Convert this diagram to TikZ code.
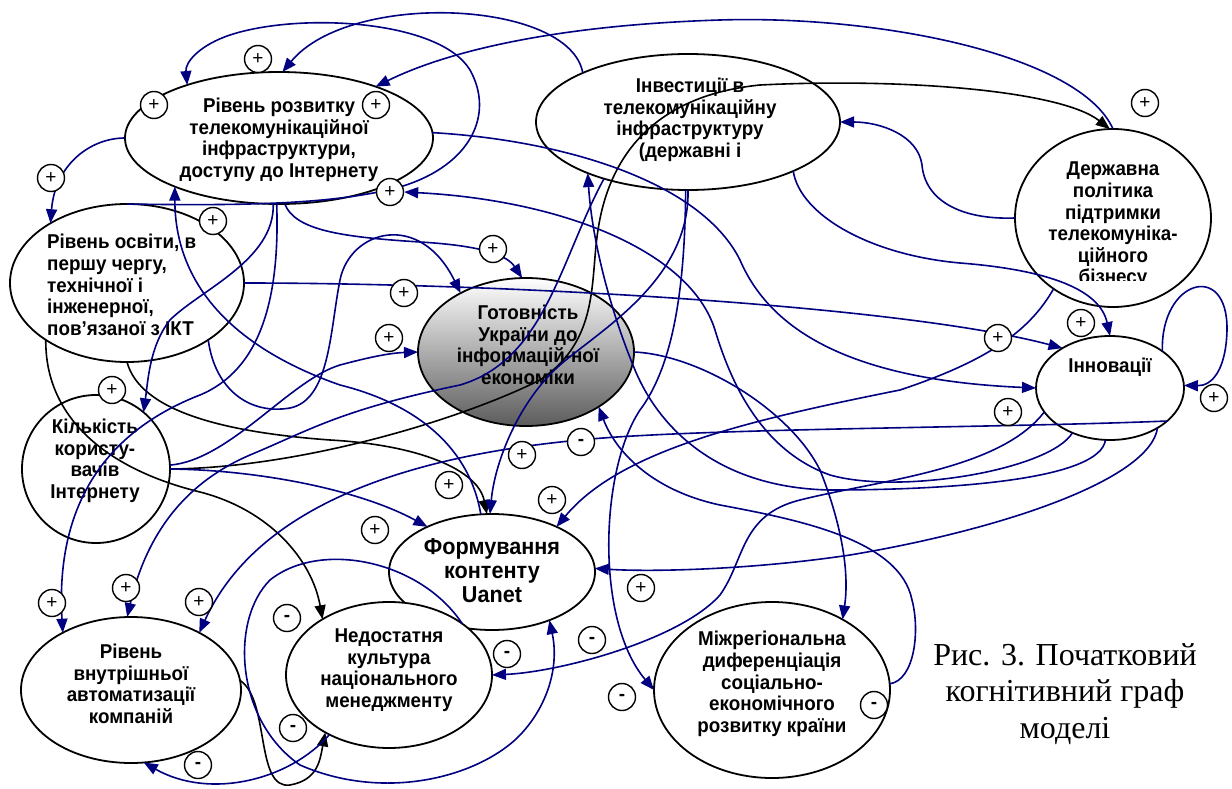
\documentclass[tikz,border=0pt]{standalone}
\usepackage{fontspec}
\setmainfont{Liberation Serif}
\setsansfont{Liberation Sans}
\newfontfamily\nodefont{Liberation Sans}[FakeStretch=0.94]
\usetikzlibrary{arrows.meta,shapes.geometric}
\definecolor{navyc}{RGB}{0,0,128}
\pgfdeclarelayer{back}
\pgfdeclarelayer{mid}
\pgfsetlayers{back,mid,main}
\tikzset{
  ell/.style={ellipse, draw=black, line width=1.8pt, fill=white, inner sep=0pt, outer sep=0pt},
  txt/.style={font=\nodefont\bfseries\fontsize{20}{21.6}\selectfont, align=center, inner sep=0pt},
  bl/.style={draw=navyc, line width=1.6pt, -{Triangle[length=14pt,width=11pt]}},
  bk/.style={draw=black, line width=1.6pt, -{Triangle[length=14pt,width=11pt]}},
  sgn/.style={circle, draw=black, line width=1.4pt, fill=white, minimum size=27pt, inner sep=0pt, font=\sffamily\fontsize{19}{19}\selectfont},
  captxt/.style={font=\rmfamily\fontsize{32}{36.5}\selectfont, align=center, inner sep=0pt}
}
\begin{document}
\begin{tikzpicture}[x=1pt,y=-1pt]
\begin{pgfonlayer}{back}
\fill[white] (0,0) rectangle (1232,789);
\node[ell, minimum width=308pt, minimum height=132pt] (A) at (279,138) {};
\node[ell, minimum width=304pt, minimum height=136pt] (B) at (688,122) {};
\node[ell, minimum width=196pt, minimum height=178pt] (C) at (1113,218) {};
\node[ell, minimum width=234pt, minimum height=158pt] (D) at (127,283) {};
\node[ellipse, draw=black, line width=1.8pt, top color=white, bottom color=black!64, inner sep=0pt, outer sep=0pt, minimum width=216pt, minimum height=148pt] (E) at (526,352) {};
\node[ell, minimum width=148pt, minimum height=104pt] (F) at (1110,388) {};
\node[ell, minimum width=148pt, minimum height=148pt] (G) at (96,469) {};
\node[ell, minimum width=206pt, minimum height=116pt] (H) at (492,572) {};
\node[ell, minimum width=220pt, minimum height=146pt] (I) at (131,690) {};
\node[ell, minimum width=206pt, minimum height=146pt] (J) at (389,675) {};
\node[ell, minimum width=236pt, minimum height=176pt] (K) at (772,690) {};
\node[txt] (At) at (279,140) {Рівень розвитку\\телекомунікаційної\\інфраструктури,\\доступу до Інтернету};
\node[txt] (Bt) at (690,120) {Інвестиції в\\телекомунікаційну\\інфраструктуру\\(державні і};
\begin{scope}
\clip (1000,140) rectangle (1230,280);
\node[txt] (Ct) at (1113,225) {Державна\\політика\\підтримки\\телекомуніка-\\ційного\\бізнесу};
\end{scope}
\node[txt, align=left, anchor=west] (Dt) at (47,285) {Рівень освіти, в\\першу чергу,\\технічної і\\інженерної,\\пов’язаної з ІКТ};
\node[txt] (Et) at (528,345) {Готовність\\України до\\інформацій-ної\\економіки};
\node[txt] (Ft) at (1110,367) {Інновації};
\node[txt] (Gt) at (95,461) {Кількість\\користу-\\вачів\\Інтернету};
\node[txt, font=\nodefont\bfseries\fontsize{23}{24}\selectfont] (Ht) at (492,571) {Формування\\контенту\\Uanet};
\node[txt] (It) at (131,684) {Рівень\\внутрішньої\\автоматизації\\компаній};
\node[txt] (Jt) at (389,670) {Недостатня\\культура\\національного\\менеджменту};
\node[txt] (Kt) at (772,684) {Міжрегіональна\\диференціація\\соціально-\\економічного\\розвитку країни};
\end{pgfonlayer}
\useasboundingbox (0,0) rectangle (1232,789);
% ---- signs ----
\node[sgn] (p1) at (258,59) {+};
\node[sgn] (p2) at (154,105) {+};
\node[sgn] (p3) at (376,105) {+};
\node[sgn] (p4) at (1145,103) {+};
\node[sgn] (p5) at (51,178) {+};
\node[sgn] (p6) at (390,192) {+};
\node[sgn] (p7) at (213,221) {+};
\node[sgn] (p8) at (493,249) {+};
\node[sgn] (p9) at (404,293) {+};
\node[sgn] (p10) at (389,338) {+};
\node[sgn] (p11) at (112,390) {+};
\node[sgn] (p12) at (1081,323) {+};
\node[sgn] (p13) at (998,338) {+};
\node[sgn] (p14) at (1008,412) {+};
\node[sgn] (p15) at (1214,398) {+};
\node[sgn] (p16) at (522,455) {+};
\node[sgn] (p17) at (449,485) {+};
\node[sgn] (p18) at (552,500) {+};
\node[sgn] (p19) at (375,530) {+};
\node[sgn] (p20) at (52,603) {+};
\node[sgn] (p21) at (126,588) {+};
\node[sgn] (p22) at (199,602) {+};
\node[sgn] (p23) at (641,588) {+};
\node[sgn] (m1) at (581,442) {\bfseries -};
\node[sgn] (m2) at (287,618) {\bfseries -};
\node[sgn] (m3) at (592,640) {\bfseries -};
\node[sgn] (m4) at (507,654) {\bfseries -};
\node[sgn] (m5) at (622,697) {\bfseries -};
\node[sgn] (m6) at (874,705) {\bfseries -};
\node[sgn] (m7) at (293,728) {\bfseries -};
\node[sgn] (m8) at (198,765) {\bfseries -};
% ---- edges ----
\begin{pgfonlayer}{mid}
\draw[bl] (B.155) .. controls (570,0) and (350,-10) .. (A.87);
\draw[bl] (D.90) .. controls (250,206) and (340,204) .. (403,186) .. controls (470,165) and (495,115) .. (470,70) .. controls (440,20) and (300,12) .. (230,35) .. controls (200,45) and (185,62) .. (A.150);
\draw[bl] (C.90) .. controls (1080,55) and (880,15) .. (720,20) .. controls (560,25) and (450,50) .. (A.28);
\draw[bk] (G.0) .. controls (300,468) and (460,420) .. (540,380) .. controls (600,340) and (590,280) .. (598,230) .. controls (610,150) and (660,95) .. (760,85) .. controls (900,78) and (1060,90) .. (C.92);
\draw[bk] (D.215) .. controls (45,420) and (110,470) .. (200,492) .. controls (270,510) and (312,560) .. (J.140);
\draw[bk] (D.270) .. controls (140,410) and (220,432) .. (330,440) .. controls (420,445) and (478,470) .. (H.95);
\draw[bk] (I.5) .. controls (270,700) and (255,790) .. (290,785) .. controls (318,780) and (320,760) .. (J.222);
\draw[bl] (A.268) .. controls (280,300) and (260,370) .. (200,395) .. controls (110,430) and (55,500) .. (I.140);
\draw[bl] (A.275) .. controls (295,230) and (340,237) .. (420,242) .. controls (470,245) and (505,252) .. (E.93);
\draw[bl] (A.265) .. controls (275,260) and (200,290) .. (170,320) .. controls (150,345) and (148,380) .. (G.50);
\draw[bl] (D.-35) .. controls (215,390) and (250,415) .. (290,408) .. controls (330,400) and (330,330) .. (340,280) .. controls (350,230) and (420,210) .. (E.138);
\draw[bl] (G.3) .. controls (230,460) and (290,380) .. (340,365) .. controls (370,357) and (390,353) .. (E.180);
\draw[bl] (H.101) .. controls (470,450) and (420,405) .. (340,385) .. controls (240,350) and (175,290) .. (A.205);
\draw[bl] (F.230) .. controls (1050,470) and (900,495) .. (830,475) .. controls (760,450) and (730,380) .. (715,330) .. controls (690,250) and (560,200) .. (p6.east);
\draw[bl] (K.3) .. controls (915,680) and (920,630) .. (912,600) .. controls (900,540) and (800,520) .. (720,505) .. controls (650,490) and (615,450) .. (E.-37);
\draw[bl] (F.265) .. controls (1100,480) and (950,490) .. (830,490) .. controls (720,488) and (660,430) .. (635,370) .. controls (610,310) and (592,240) .. (B.207);
\draw[bl] (C.180) .. controls (960,220) and (925,200) .. (922,165) .. controls (918,135) and (880,122) .. (B.0);
\draw[bl] (D.0) .. controls (500,283) and (900,305) .. (F.140);
\draw[bl] (B.-25) .. controls (800,215) and (870,255) .. (960,263) .. controls (1050,270) and (1100,290) .. (F.90);
\draw[bl] (A.2) .. controls (560,140) and (700,180) .. (740,260) .. controls (770,330) and (850,380) .. (F.180);
\draw[bl] (C.230) .. controls (1030,330) and (990,360) .. (900,390) .. controls (750,420) and (620,450) .. (H.35);
\draw[bl] (F.35) .. controls (1160,280) and (1228,260) .. (1227,330) .. controls (1226,370) and (1212,386) .. (F.2);
\draw[bl] (G.0) .. controls (260,470) and (360,490) .. (H.145);
\draw[bl] (B.270) .. controls (690,280) and (600,330) .. (560,365) .. controls (520,400) and (495,460) .. (H.92);
\draw[bl] (F.-40) .. controls (1150,480) and (1000,530) .. (850,555) .. controls (750,570) and (650,572) .. (H.2);
\draw[bl] (J.35) .. controls (420,560) and (320,540) .. (270,580) .. controls (230,620) and (235,720) .. (300,765) .. controls (380,800) and (470,780) .. (515,740) .. controls (545,712) and (560,670) .. (H.-40);
\draw[bl] (F.200) .. controls (1000,470) and (880,480) .. (800,500) .. controls (740,515) and (745,560) .. (720,595) .. controls (680,640) and (560,672) .. (J.0);
\draw[bl] (F.-30) .. controls (1000,428) and (700,428) .. (580,440) .. controls (420,455) and (260,500) .. (I.40);
\draw[bl] (J.225) .. controls (290,780) and (210,800) .. (I.-80);
\draw[bl] (E.0) .. controls (700,355) and (790,410) .. (820,470) .. controls (840,520) and (850,570) .. (K.45);
\draw[bl] (B.268) .. controls (685,300) and (670,370) .. (640,410) .. controls (600,470) and (595,620) .. (K.180);
\draw[bl] (A.180) .. controls (90,138) and (55,165) .. (D.142);
\draw[bl] (B.214) .. controls (560,260) and (545,360) .. (460,385) .. controls (340,410) and (310,430) .. (250,455) .. controls (180,485) and (145,540) .. (I.93);
\end{pgfonlayer}
% ---- caption ----
\node[captxt] (capt) at (1065,694) {Рис. 3. Початковий\\когнітивний граф\\моделі};
\end{tikzpicture}
\end{document}
